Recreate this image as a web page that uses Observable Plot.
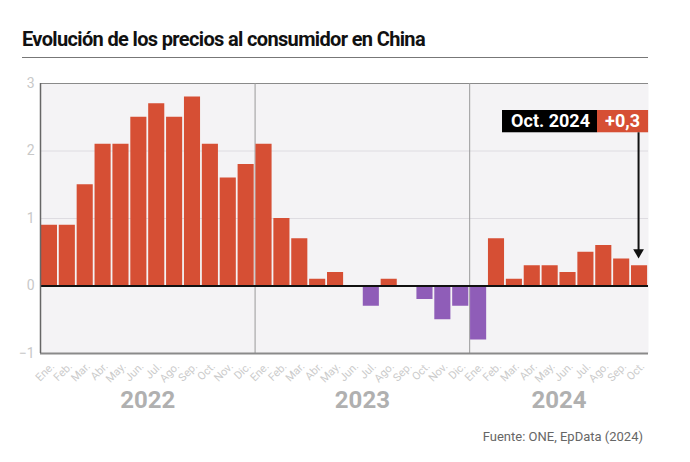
<!DOCTYPE html>
<html><head><meta charset="utf-8">
<script src="https://cdn.jsdelivr.net/npm/d3@7"></script>
<script src="https://cdn.jsdelivr.net/npm/@observablehq/plot@0.6"></script>
<style>
body{margin:0;background:#fff;font-family:Roboto, "Noto Sans", sans-serif;}
#wrap{width:690px;height:462px;position:relative;overflow:hidden;}
#title{margin:0 42px 0 22px;padding-top:28px;padding-bottom:6px;border-bottom:1px solid #777;font-weight:700;font-size:20px;line-height:23px;color:#111;letter-spacing:-0.65px;}
#chart svg{display:block;}
#source{text-align:right;padding-right:47px;padding-top:11px;font-size:13px;line-height:16px;color:#666;}
</style></head><body>
<div id="wrap">
<div id="title">Evolución de los precios al consumidor en China</div>
<div id="chart"></div>
<div id="source">Fuente: ONE, EpData (2024)</div>
</div>
<script>
const years = ["2022", "2023", "2024"];
const monthLabels = ["Ene.","Feb.","Mar.","Abr.","May.","Jun.","Jul.","Ago.","Sep.","Oct.","Nov.","Dic."];
const values2022 = [0.9, 0.9, 1.5, 2.1, 2.1, 2.5, 2.7, 2.5, 2.8, 2.1, 1.6, 1.8];
const values2023 = [2.1, 1.0, 0.7, 0.1, 0.2, 0.0, -0.3, 0.1, 0.0, -0.2, -0.5, -0.3];
const values2024 = [-0.8, 0.7, 0.1, 0.3, 0.3, 0.2, 0.5, 0.6, 0.4, 0.3];
const yTicks = [-1, 0, 1, 2, 3];
const gridTicks = [1, 2];
const annotationLabel = "Oct. 2024";
const annotationValue = "+0,3";

const RED = "#d64f34", PURPLE = "#8f5db8";
const W = 690, H = 360, ML = 40, MR = 42, MT = 25, MB = 65;

const seriesByYear = [values2022, values2023, values2024];
const data = [];
years.forEach((yr, yi) => {
  seriesByYear[yi].forEach((v, i) => {
    data.push({key: `${yr}-${String(i + 1).padStart(2, "0")}`, year: yr, month: monthLabels[i], value: v});
  });
});
const keys = data.map(d => d.key);
const step = (W - ML - MR) / data.length;
const lastKey = keys[keys.length - 1];
// every year here has an even number of months: label sits on the boundary before the middle month
const yearMid = years.map((yr, yi) => {
  const n = seriesByYear[yi].length;
  return {year: yr, key: `${yr}-${String(Math.floor(n / 2) + 1).padStart(2, "0")}`};
});
const annY1 = 2.27, annY2 = 2.6;

const chart = Plot.plot({
  width: W, height: H,
  marginLeft: ML, marginRight: MR, marginTop: MT, marginBottom: MB,
  x: {domain: keys, paddingInner: 0.1, paddingOuter: 0.05, round: false, axis: null},
  y: {domain: [-1, 3], axis: null},
  color: {type: "identity"},
  style: {fontFamily: "Roboto, sans-serif", background: "transparent", overflow: "visible"},
  marks: [
    Plot.frame({fill: "#f4f3f5", stroke: null}),
    Plot.ruleY(gridTicks, {stroke: "#dedce1", strokeWidth: 1}),
    Plot.ruleY([3], {stroke: "#8a8a8a", strokeWidth: 1}),
    Plot.ruleX(["2023-01", "2024-01"], {y1: -1, y2: 3, dx: -step / 2, stroke: "#9a9a9a", strokeWidth: 1}),
    Plot.barY(data, {x: "key", y: "value", fill: d => d.value < 0 ? PURPLE : RED}),
    Plot.ruleY([0], {stroke: "#111", strokeWidth: 2}),
    Plot.ruleY([-1], {stroke: "#8a8a8a", strokeWidth: 2}),
    Plot.ruleX([keys[0]], {y1: -1, y2: 3, dx: -step / 2, stroke: "#666", strokeWidth: 1.5}),
    // y tick labels
    Plot.text(yTicks, {y: d => d, text: d => d < 0 ? "\u2212" + Math.abs(d) : String(d), frameAnchor: "left", dx: -6, textAnchor: "end", fill: "#c8c8c8", fontSize: 14}),
    // month labels
    Plot.text(data, {x: "key", y: () => -1, text: "month", rotate: -45, textAnchor: "end", dx: 3, dy: 11, fill: "#cbcbcb", fontSize: 11}),
    // year labels
    Plot.text(yearMid, {x: "key", y: () => -1, text: "year", dx: -step / 2, dy: 47, fill: "#b0b0b0", fontSize: 24, fontWeight: 700}),
    // annotation boxes
    Plot.barY([lastKey], {x: d => d, y1: annY1, y2: annY2, fill: "#000", insetLeft: -129, insetRight: 50}),
    Plot.barY([lastKey], {x: d => d, y1: annY1, y2: annY2, fill: RED, insetLeft: -34, insetRight: -1}),
    Plot.text([lastKey], {x: d => d, y: (annY1 + annY2) / 2, text: () => annotationLabel, dx: -89, fill: "#fff", fontSize: 18, fontWeight: 700}),
    Plot.text([lastKey], {x: d => d, y: (annY1 + annY2) / 2, text: () => annotationValue, dx: -17, fill: "#fff", fontSize: 18, fontWeight: 700}),
    Plot.ruleX([lastKey], {y1: annY1, y2: 0.5, dx: -1, stroke: "#111", strokeWidth: 2}),
    Plot.dot([lastKey], {x: d => d, y: 0.5, dx: -1, symbol: "triangle", r: 4, rotate: 180, fill: "#111", stroke: null})
  ]
});
document.getElementById("chart").appendChild(chart);
</script>
</body></html>
